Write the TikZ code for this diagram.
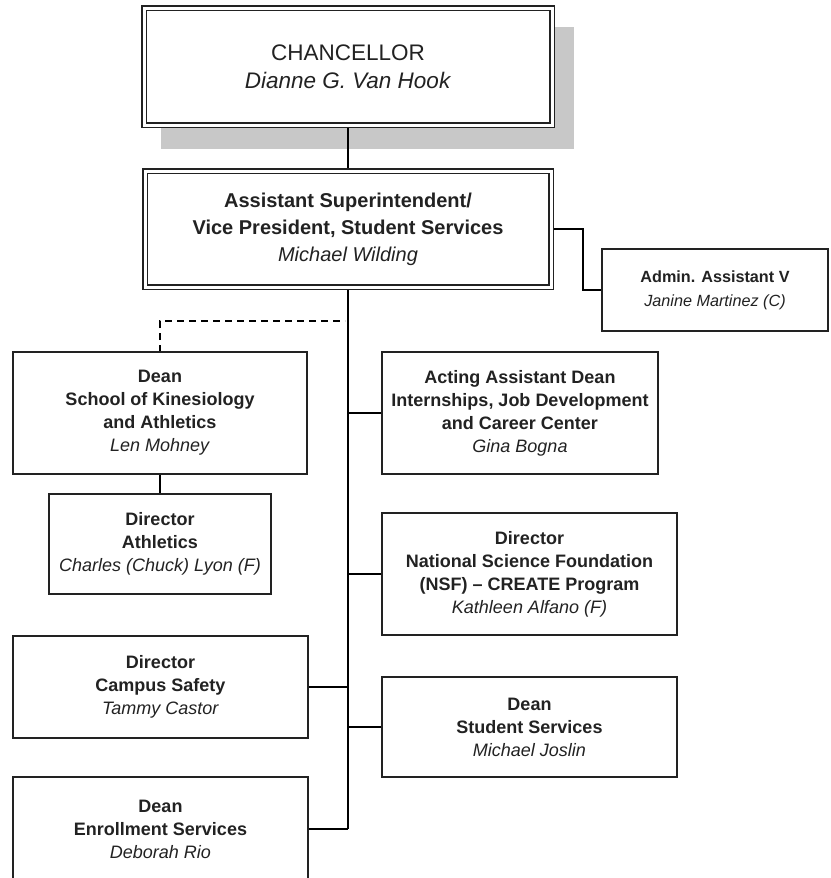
\documentclass[tikz,border=0pt]{standalone}
\usepackage{fontspec}
\setmainfont{Liberation Sans}
\usetikzlibrary{backgrounds}
\definecolor{shadowgray}{RGB}{200,200,200}
\definecolor{ink}{RGB}{34,34,34}
\newcommand{\incumbent}[1]{\textit{\mdseries #1}}

\begin{document}
\begin{tikzpicture}[x=1pt, y=-1pt, color=ink,
  box/.style={draw, fill=white, line width=1.3pt, inner sep=0pt, outer sep=0pt,
    align=center, font=\fontsize{18}{23}\selectfont\bfseries},
  dblbox/.style={box, line width=1.1pt, double=white, double distance=3pt},
  link/.style={draw, line width=1.2pt},
  dotted link/.style={link, dash pattern=on 7pt off 5pt}]
  \useasboundingbox (0,0) rectangle (830,878);

  \node[dblbox, minimum width=408pt, minimum height=117pt,
    font=\fontsize{22.5}{28}\selectfont]           (chan)   at (348,66.5)  {CHANCELLOR\\\textit{Dianne G. Van Hook}};
  \node[dblbox, minimum width=406pt, minimum height=116pt,
    font=\fontsize{20}{27}\selectfont\bfseries]    (vp)     at (348,229)   {Assistant Superintendent/\\Vice President, Student Services\\\incumbent{Michael Wilding}};
  \node[box, minimum width=226pt, minimum height=82pt,
    font=\fontsize{16.2}{24}\selectfont\bfseries]  (admin)  at (715,290)   {Admin. Assistant V\\\incumbent{Janine Martinez (C)}};
  \node[box, minimum width=294pt, minimum height=122pt] (kin)    at (160,413)   {Dean\\School of Kinesiology\\and Athletics\\\incumbent{Len Mohney}};
  \node[box, minimum width=222pt, minimum height=100pt] (ath)    at (160,544)   {Director\\Athletics\\\incumbent{Charles (Chuck) Lyon (F)}};
  \node[box, minimum width=276pt, minimum height=122pt] (acting) at (520,413)   {Acting Assistant Dean\\Internships, Job Development\\and Career Center\\\incumbent{Gina Bogna}};
  \node[box, minimum width=295pt, minimum height=122pt] (nsf)    at (529.5,574) {Director\\National Science Foundation\\(NSF) -- CREATE Program\\\incumbent{Kathleen Alfano (F)}};
  \node[box, minimum width=295pt, minimum height=102pt] (safety) at (160.5,687) {Director\\Campus Safety\\\incumbent{Tammy Castor}};
  \node[box, minimum width=295pt, minimum height=100pt] (dss)    at (529.5,727) {Dean\\Student Services\\\incumbent{Michael Joslin}};
  \node[box, minimum width=295pt, minimum height=104pt] (enroll) at (160.5,829) {Dean\\Enrollment Services\\\incumbent{Deborah Rio}};

  \coordinate (trunk) at (vp.south |- enroll.east);
  \coordinate (dash)  at (345,321);

  \begin{scope}[on background layer]
    % shadow under the chancellor
    \fill[shadowgray] ([shift={(17,19)}]chan.north west) rectangle ([shift={(22,24)}]chan.south east);
    % chancellor -> vice president
    \path[link] (chan.south) -- (vp.north);
    % vice president -> admin. assistant
    \path[link] (vp.east) -- ++(32,0) |- (admin.west);
    % main trunk
    \path[link] (vp.south) -- (trunk);
    % dotted line to kinesiology
    \path[dotted link] (kin.north) |- (dash);
    % kinesiology -> athletics
    \path[link] (kin.south) -- (ath.north);
    % trunk -> right column
    \path[link] (acting.west) -- (acting.west -| trunk);
    \path[link] (nsf.west)    -- (nsf.west -| trunk);
    \path[link] (dss.west)    -- (dss.west -| trunk);
    % trunk -> left column
    \path[link] (safety.east) -- (safety.east -| trunk);
    \path[link] (enroll.east) -- (trunk);
  \end{scope}
\end{tikzpicture}
\end{document}
